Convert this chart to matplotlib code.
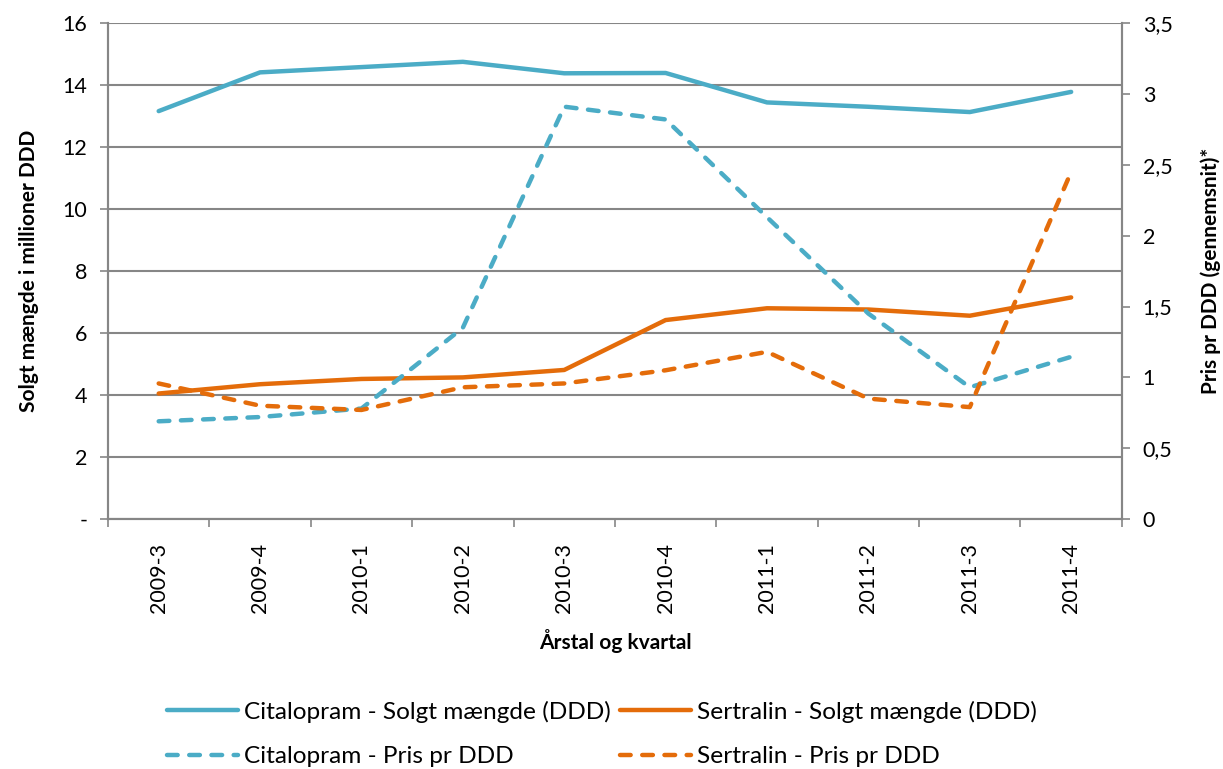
import numpy as np
import matplotlib.pyplot as plt
from matplotlib.ticker import FixedLocator, FuncFormatter

plt.rcParams['font.family'] = ['Lato', 'DejaVu Sans']

quarters = ["2009-3", "2009-4", "2010-1", "2010-2", "2010-3",
            "2010-4", "2011-1", "2011-2", "2011-3", "2011-4"]

# million DDD sold (left axis)
cit_volume = [13.16, 14.41, 14.58, 14.75, 14.38, 14.39, 13.44, 13.30, 13.13, 13.78]
ser_volume = [4.05, 4.35, 4.52, 4.57, 4.81, 6.42, 6.80, 6.76, 6.56, 7.15]

# average price per DDD (right axis)
cit_price = [0.69, 0.72, 0.78, 1.35, 2.91, 2.82, 2.13, 1.45, 0.93, 1.145]
ser_price = [0.957, 0.80, 0.77, 0.93, 0.957, 1.05, 1.18, 0.85, 0.79, 2.45]

blue = '#4BACC6'
orange = '#E46C0A'
grey = '#868686'
dashed = (0, (2.4, 2.6))

fig = plt.figure(figsize=(12.23, 7.69), dpi=100)
ax = fig.add_axes([0.0883, 0.325, 0.829, 0.645])
ax2 = ax.twinx()

x = np.arange(len(quarters))

l1, = ax.plot(x, cit_volume, color=blue, lw=3.2, solid_capstyle='round',
              label='Citalopram - Solgt mængde (DDD)')
l3, = ax.plot(x, ser_volume, color=orange, lw=3.2, solid_capstyle='round',
              label='Sertralin - Solgt mængde (DDD)')
l2, = ax2.plot(x, cit_price, color=blue, lw=3.2, ls=dashed,
               dash_capstyle='round', label='Citalopram - Pris pr DDD')
l4, = ax2.plot(x, ser_price, color=orange, lw=3.2, ls=dashed,
               dash_capstyle='round', label='Sertralin - Pris pr DDD')

ax.set_xlim(-0.5, len(quarters) - 0.5)
ax.set_ylim(0, 16)
ax2.set_ylim(0, 3.5)

ax.set_yticks(np.arange(0, 17, 2))
ax.yaxis.set_major_formatter(FuncFormatter(lambda v, p: '-' if v == 0 else f'{v:.0f}'))
ax2.set_yticks(np.arange(0, 3.6, 0.5))
ax2.yaxis.set_major_formatter(
    FuncFormatter(lambda v, p: f'{v:g}'.replace('.', ',')))

ax.set_xticks(x)
ax.set_xticklabels(quarters, rotation=90)
ax.xaxis.set_minor_locator(FixedLocator(np.arange(-0.5, len(quarters), 1)))
ax.tick_params(axis='x', which='major', length=0, pad=17, labelsize=15.5)
ax.tick_params(axis='x', which='minor', length=6, color=grey, width=1.2)
ax.tick_params(axis='y', length=6, color=grey, width=1.2, labelsize=15.5, pad=9)
ax2.tick_params(axis='y', length=6, color=grey, width=1.2, labelsize=15.5, pad=9)

ax.grid(axis='y', color=grey, lw=1.5)
ax.set_axisbelow(True)

for a in (ax, ax2):
    a.spines['top'].set_visible(False)
    for side in ('left', 'right', 'bottom'):
        a.spines[side].set_color(grey)
        a.spines[side].set_linewidth(1.5)

ax.set_ylabel('Solgt mængde i millioner DDD', fontsize=15, fontweight='bold', labelpad=17)
ax2.set_ylabel('Pris pr DDD (gennemsnit)*', fontsize=15, fontweight='bold', labelpad=20)
ax.set_xlabel('Årstal og kvartal', fontsize=15, fontweight='bold', labelpad=12)

fig.legend(handles=[l1, l2, l3, l4], ncol=2, loc='center',
           bbox_to_anchor=(0.492, 0.0455), frameon=False, fontsize=17.6,
           handlelength=2.9, handletextpad=0.25, columnspacing=0.37,
           labelspacing=0.97)

fig.savefig('out.png', dpi=100)
